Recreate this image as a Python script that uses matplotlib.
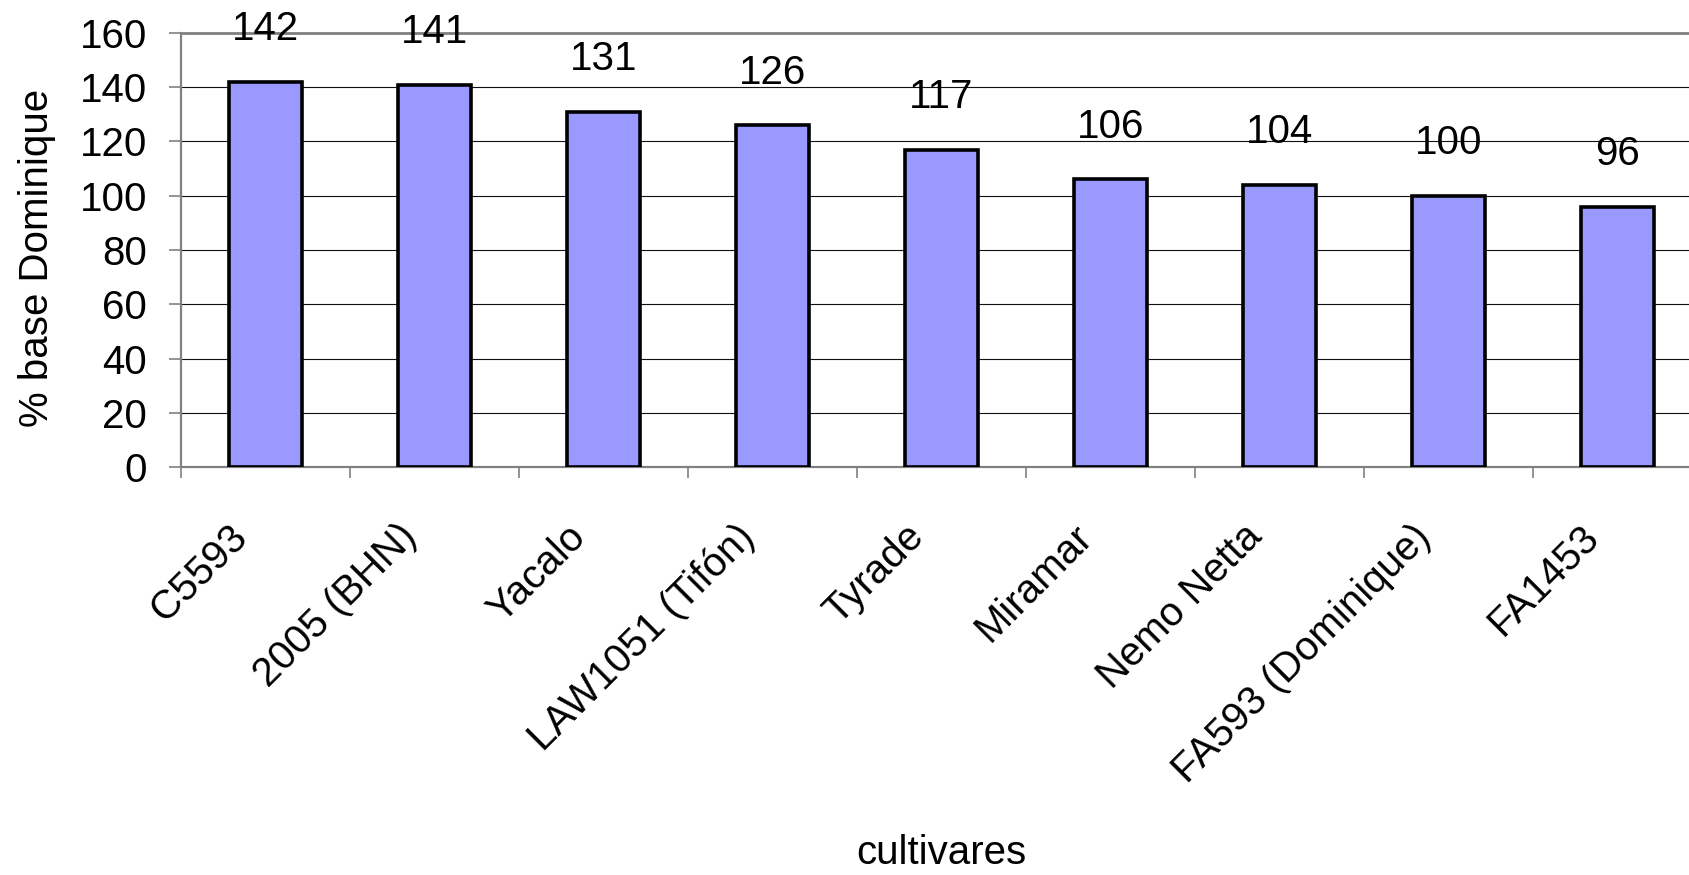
"""Bar chart: % relative to base Dominique, by cultivar."""

import matplotlib
matplotlib.use("Agg")
import matplotlib.pyplot as plt
from matplotlib.transforms import ScaledTranslation

cultivares = [
    "C5593", "2005 (BHN)", "Yacalo", "LAW1051 (Tifón)", "Tyrade",
    "Miramar", "Nemo Netta", "FA593 (Dominique)", "FA1453",
]
valores = [142, 141, 131, 126, 117, 106, 104, 100, 96]
yticks = [0, 20, 40, 60, 80, 100, 120, 140, 160]

plt.rcParams["font.family"] = ["Liberation Sans", "DejaVu Sans"]

DPI = 100
FS = 29
fig = plt.figure(figsize=(16.9, 8.75), dpi=DPI)
ax = fig.add_axes([181 / 1690, 1 - 467 / 875, 1521 / 1690, 434 / 875])

x = list(range(len(cultivares)))
ax.bar(x, valores, width=0.435, color="#9999FF", edgecolor="black",
       linewidth=2.6, zorder=3)

for xi, v in zip(x, valores):
    ax.annotate(str(v), xy=(xi, v), xytext=(0, 30), textcoords="offset points",
                ha="center", va="baseline", fontsize=FS, annotation_clip=False)

ax.set_xlim(-0.5, len(cultivares) - 0.5)
ax.set_ylim(0, 160)
ax.set_yticks(yticks)
ax.yaxis.grid(True, color="#111111", linewidth=0.8, zorder=0)
ax.set_axisbelow(True)

for side in ("left", "bottom"):
    ax.spines[side].set_color("#808080")
    ax.spines[side].set_linewidth(1.6)
ax.spines["top"].set_color("#808080")
ax.spines["top"].set_linewidth(2.0)
ax.spines["right"].set_visible(False)

ax.tick_params(axis="y", direction="out", length=8.5, width=1.2,
               color="#808080", labelsize=FS, pad=16)

# category boundaries carry the tick marks, centres carry the labels
ax.set_xticks([i - 0.5 for i in range(len(cultivares) + 1)], minor=True)
ax.set_xticks(x)
ax.set_xticklabels(cultivares, rotation=45, ha="right", va="center",
                   rotation_mode="anchor", fontsize=FS)
ax.tick_params(axis="x", which="major", length=0, pad=46)
ax.tick_params(axis="x", which="minor", direction="out", length=8,
               width=1.2, color="#808080")

shift = ScaledTranslation(-24 / DPI, 0, fig.dpi_scale_trans)
for lab in ax.get_xticklabels():
    lab.set_transform(lab.get_transform() + shift)

ax.set_ylabel("% base Dominique", fontsize=FS)
ax.yaxis.set_label_coords(-0.082, 0.482)
ax.set_xlabel("cultivares", fontsize=FS, va="baseline")
ax.xaxis.set_label_coords(0.5, -0.915)

fig.savefig("out.png", dpi=DPI)
